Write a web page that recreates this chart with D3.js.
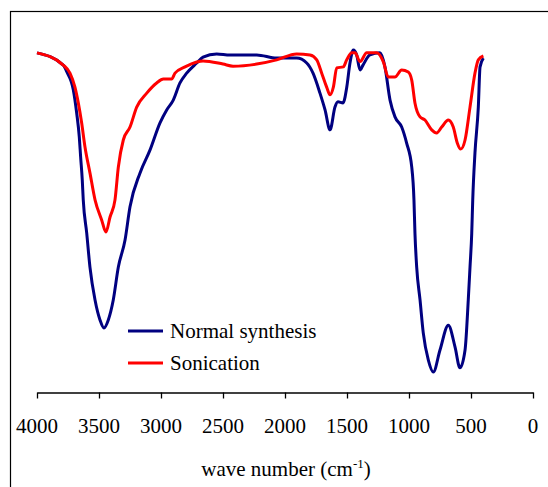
<!DOCTYPE html>
<html>
  <head>
    <meta charset="UTF-8" />
    <script src="https://d3js.org/d3.v7.min.js"></script>
  </head>
  <body style="margin: 0">
    <svg width="548" height="487"></svg>
    <script>
      // wave number (cm-1) and transmittance (arbitrary %)
      const normalWave = [4000, 3788, 3760, 3707, 3680, 3659, 3648, 3635, 3627, 3599, 3573, 3532, 3492, 3460, 3425, 3385, 3344, 3290, 3250, 3169, 3089, 3008, 2954, 2901, 2847, 2793, 2712, 2661, 2551, 2444, 2228, 2067, 1906, 1825, 1774, 1718, 1677, 1637, 1597, 1573, 1532, 1502, 1476, 1449, 1422, 1395, 1371, 1315, 1234, 1194, 1153, 1113, 1059, 1019, 978, 960, 952, 938, 911, 885, 844, 804, 750, 683, 629, 589, 548, 522, 508, 494, 486, 468, 441, 427, 400]
      const normalT = [96.9, 93.4, 91.5, 86.3, 79.7, 72.9, 67.1, 60.6, 54.9, 45.4, 35.7, 26.3, 20.6, 18.3, 20.6, 26.3, 35.7, 43.4, 52.9, 62.6, 69.1, 76.9, 80.6, 83.4, 88.3, 91.1, 94.0, 95.7, 96.6, 96.3, 96.3, 95.4, 95.4, 94.0, 91.1, 85.4, 80.6, 74.9, 81.4, 82.9, 82.6, 87.1, 94.0, 97.7, 96.3, 92.0, 93.4, 96.3, 96.9, 92.9, 83.4, 78.6, 75.7, 71.1, 64.3, 54.9, 45.4, 35.7, 26.3, 16.9, 9.1, 5.7, 12.0, 19.1, 12.9, 6.9, 12.0, 26.3, 35.7, 45.4, 54.9, 68.3, 81.4, 92.9, 95.4]

      const sonicWave = [4000, 3788, 3734, 3694, 3667, 3640, 3613, 3573, 3532, 3478, 3444, 3411, 3371, 3344, 3304, 3250, 3196, 3115, 3035, 2981, 2914, 2887, 2806, 2712, 2661, 2500, 2419, 2228, 2067, 1906, 1798, 1744, 1704, 1664, 1637, 1610, 1583, 1530, 1502, 1462, 1435, 1395, 1341, 1260, 1207, 1167, 1113, 1059, 1006, 978, 952, 911, 871, 817, 777, 736, 683, 643, 610, 583, 548, 508, 468, 441, 400]
      const sonicT = [96.9, 93.4, 91.1, 87.1, 82.6, 76.9, 70.0, 62.6, 54.9, 49.1, 45.7, 50.0, 54.9, 64.3, 72.0, 75.7, 81.4, 85.4, 88.3, 89.4, 89.4, 91.1, 92.9, 94.3, 94.6, 93.7, 93.1, 93.7, 94.9, 96.6, 96.3, 94.9, 91.1, 87.1, 84.9, 87.1, 92.6, 92.9, 94.9, 96.9, 96.9, 94.4, 96.9, 96.9, 94.3, 90.0, 90.0, 92.0, 91.4, 89.1, 82.6, 78.6, 77.7, 74.9, 74.0, 75.7, 77.7, 75.7, 71.1, 69.4, 72.0, 81.4, 91.1, 94.9, 96.0]

      const xTicks = [4000, 3500, 3000, 2500, 2000, 1500, 1000, 500, 0]
      const seriesNames = ['Normal synthesis', 'Sonication']
      const seriesColors = ['#000080', '#ff0000']

      const svg = d3.select('svg')

      // outer frame (runs off the right and bottom edges)
      svg.append('rect')
        .attr('x', 10.5).attr('y', 11.5)
        .attr('width', 700).attr('height', 700)
        .attr('fill', 'none').attr('stroke', '#000').attr('stroke-width', 1.2)

      const x = d3.scaleLinear().domain([4000, 0]).range([37, 533])
      const y = d3.scaleLinear().domain([0, 100]).range([392, 42])

      // x axis: ticks drawn by the axis, labels added by hand in serif
      const axis = svg.append('g')
        .attr('transform', 'translate(0,392.5)')
        .call(d3.axisBottom(x).tickValues(xTicks).tickSizeOuter(0).tickSizeInner(6).tickFormat(''))
      axis.select('.domain').attr('stroke', '#000').attr('stroke-width', 1.3)
      axis.selectAll('.tick line').attr('stroke', '#000').attr('stroke-width', 1.3)

      svg.selectAll('text.xlab')
        .data(xTicks)
        .join('text')
        .attr('class', 'xlab')
        .attr('x', d => x(d))
        .attr('y', 433)
        .attr('text-anchor', 'middle')
        .attr('font-family', 'Liberation Serif')
        .attr('font-size', 21)
        .text(d => d)

      // axis title
      const title = svg.append('text')
        .attr('x', 286).attr('y', 476)
        .attr('text-anchor', 'middle')
        .attr('font-family', 'Times New Roman')
        .attr('font-size', 21)
      title.append('tspan').text('wave number (cm')
      title.append('tspan').attr('dy', -8).attr('font-size', 13).text('-1')
      title.append('tspan').attr('dy', 8).text(')')

      // spectra
      const line = d3.line()
        .x(d => x(d[0]))
        .y(d => y(d[1]))
        .curve(d3.curveMonotoneX)

      const series = [
        d3.zip(normalWave, normalT),
        d3.zip(sonicWave, sonicT)
      ]

      ;[0, 1].forEach(i => {
        svg.append('path')
          .datum(series[i].slice().reverse())
          .attr('fill', 'none')
          .attr('stroke', seriesColors[i])
          .attr('stroke-width', 3)
          .attr('stroke-linejoin', 'round')
          .attr('d', line)
      })

      // legend
      seriesNames.forEach((name, i) => {
        const ly = 331 + i * 32
        svg.append('line')
          .attr('x1', 128).attr('x2', 163)
          .attr('y1', ly).attr('y2', ly)
          .attr('stroke', seriesColors[i]).attr('stroke-width', 3)
        svg.append('text')
          .attr('x', 170).attr('y', ly + 7)
          .attr('font-family', 'serif')
          .attr('font-size', 21)
          .text(name)
      })
    </script>
  </body>
</html>
